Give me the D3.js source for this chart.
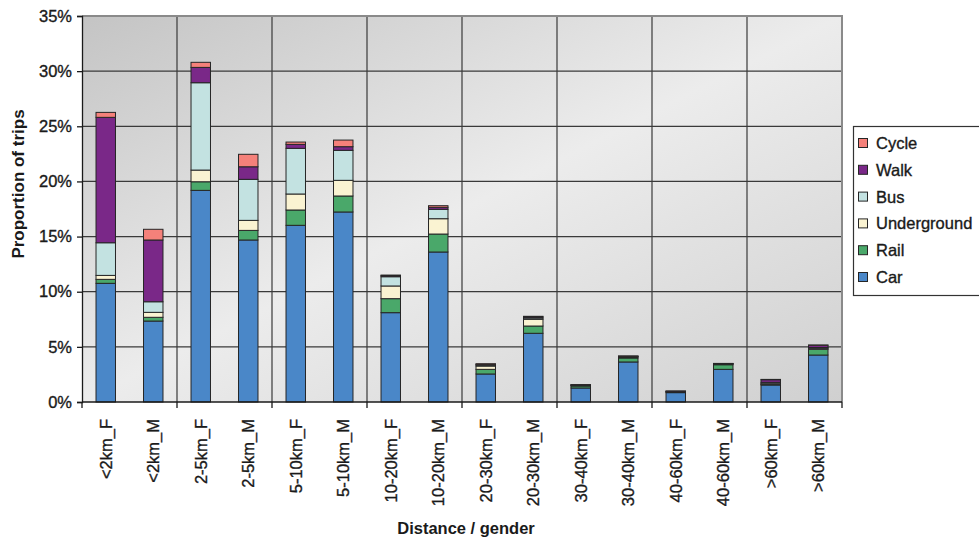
<!DOCTYPE html>
<html>
<head>
<meta charset="utf-8">
<script src="https://cdn.jsdelivr.net/npm/d3@7"></script>
<style>
  html, body { margin: 0; padding: 0; background: #fff; }
  svg { display: block; font-family: "Liberation Sans", Arial, sans-serif; }
  .lbl { stroke: #1a1a1a; stroke-width: 0.35px; fill: #1a1a1a; }
</style>
</head>
<body>
<svg id="chart" width="979" height="543"></svg>
<script>
// Trip categories: distance band and gender
const categories = ["<2km_F", "<2km_M", "2-5km_F", "2-5km_M", "5-10km_F", "5-10km_M",
  "10-20km_F", "10-20km_M", "20-30km_F", "20-30km_M", "30-40km_F", "30-40km_M",
  "40-60km_F", "40-60km_M", ">60km_F", ">60km_M"];

// Share of trips (%) by mode, stacked bottom to top
const car         = [10.76, 7.34, 19.19, 14.69, 16.02, 17.23, 8.10, 13.60, 2.54, 6.23, 1.27, 3.63, 0.85, 2.96, 1.54, 4.26];
const rail        = [0.36, 0.34, 0.78, 0.87, 1.39, 1.45, 1.27, 1.63, 0.42, 0.66, 0.18, 0.36, 0.06, 0.42, 0.06, 0.52];
const underground = [0.36, 0.45, 1.06, 0.91, 1.45, 1.42, 1.15, 1.39, 0.30, 0.61, 0.06, 0.09, 0.04, 0.06, 0.06, 0.10];
const bus         = [2.96, 0.96, 7.92, 3.72, 4.14, 2.72, 0.84, 0.85, 0.10, 0.12, 0.03, 0.05, 0.03, 0.03, 0.12, 0.06];
const walk        = [11.37, 5.60, 1.39, 1.14, 0.36, 0.33, 0.10, 0.18, 0.06, 0.10, 0.02, 0.03, 0.02, 0.02, 0.24, 0.20];
const cycle       = [0.45, 0.97, 0.46, 1.13, 0.21, 0.60, 0.05, 0.15, 0.05, 0.05, 0.01, 0.01, 0.00, 0.01, 0.03, 0.03];

const seriesNames = ["Car", "Rail", "Underground", "Bus", "Walk", "Cycle"];
const seriesValues = [car, rail, underground, bus, walk, cycle];
const colors = ["#4a87c8", "#4aa86a", "#faf3d2", "#c3e2e1", "#7a2888", "#f5817a"];

const yTicks = [0, 0.05, 0.10, 0.15, 0.20, 0.25, 0.30, 0.35];

const svg = d3.select("#chart");
const plot = { left: 82, right: 842, top: 16, bottom: 402 };
const fontSize = 16.5;

// Build a table: one row per category with a fraction per mode
const rows = categories.map((c, i) => {
  const r = { cat: c };
  seriesNames.forEach((s, k) => { r[s] = seriesValues[k][i] / 100; });
  return r;
});
const stacked = d3.stack().keys(seriesNames)(rows);

const x = d3.scaleBand().domain(categories)
  .range([plot.left, plot.right])
  .paddingInner(0.59).paddingOuter(0.295);
const y = d3.scaleLinear().domain([0, 0.35]).range([plot.bottom, plot.top]);

// Plot-area background gradient
const defs = svg.append("defs");
const grad = defs.append("linearGradient").attr("id", "bg")
  .attr("x1", 0).attr("y1", 0).attr("x2", 1).attr("y2", 1);
grad.append("stop").attr("offset", 0).attr("stop-color", "#c4c4c4");
grad.append("stop").attr("offset", 0.5).attr("stop-color", "#ececec");
grad.append("stop").attr("offset", 1).attr("stop-color", "#d0d0d0");

svg.append("rect")
  .attr("x", plot.left).attr("y", plot.top)
  .attr("width", plot.right - plot.left).attr("height", plot.bottom - plot.top)
  .attr("fill", "url(#bg)");

// Category boundaries every two bars
const step = x.step();
const boundaries = d3.range(0, categories.length + 1, 2)
  .map(i => plot.left + (x.paddingOuter() - x.paddingInner() / 2) * step + i * step);

// Horizontal gridlines
svg.append("g").selectAll("line").data(yTicks.slice(1)).join("line")
  .attr("x1", plot.left).attr("x2", plot.right)
  .attr("y1", d => y(d)).attr("y2", d => y(d))
  .attr("stroke", "#3a3a3a").attr("stroke-width", 1.2);

// Vertical gridlines
svg.append("g").selectAll("line").data(boundaries.slice(1, -1)).join("line")
  .attr("x1", d => d).attr("x2", d => d)
  .attr("y1", plot.top).attr("y2", plot.bottom)
  .attr("stroke", "#3a3a3a").attr("stroke-width", 1.2);

// Plot border (top and right)
svg.append("path")
  .attr("d", `M${plot.left},${plot.top}H${plot.right}V${plot.bottom}`)
  .attr("fill", "none").attr("stroke", "#8a8a8a").attr("stroke-width", 2);

// Stacked bars
svg.append("g").selectAll("g").data(stacked).join("g")
  .attr("fill", (d, i) => colors[i])
  .selectAll("rect").data(d => d).join("rect")
  .attr("x", d => x(d.data.cat))
  .attr("width", x.bandwidth())
  .attr("y", d => y(d[1]))
  .attr("height", d => Math.max(0, y(d[0]) - y(d[1])))
  .attr("stroke", "#262626").attr("stroke-width", 1);

// Y axis
const yAxis = d3.axisLeft(y).tickValues(yTicks).tickFormat(d3.format(".0%"))
  .tickSize(5).tickPadding(5);
const gy = svg.append("g").attr("transform", `translate(${plot.left},0)`).call(yAxis);
gy.select(".domain").attr("stroke", "#1a1a1a").attr("stroke-width", 1.3);
gy.selectAll(".tick line").attr("stroke", "#1a1a1a").attr("stroke-width", 1.3);
gy.selectAll("text").attr("class", "lbl").attr("font-size", fontSize)
  .attr("font-family", "Liberation Sans, Arial, sans-serif");

// X axis line and ticks
svg.append("line")
  .attr("x1", plot.left).attr("x2", plot.right)
  .attr("y1", plot.bottom).attr("y2", plot.bottom)
  .attr("stroke", "#1a1a1a").attr("stroke-width", 1.3);
svg.append("g").selectAll("line").data(boundaries).join("line")
  .attr("x1", d => d).attr("x2", d => d)
  .attr("y1", plot.bottom).attr("y2", plot.bottom + 6)
  .attr("stroke", "#1a1a1a").attr("stroke-width", 1.3);

// Rotated category labels
svg.append("g").selectAll("text").data(categories).join("text")
  .attr("class", "lbl")
  .attr("transform", d => `translate(${x(d) + x.bandwidth() / 2 + 6},419) rotate(-90)`)
  .attr("text-anchor", "end")
  .attr("font-size", fontSize)
  .text(d => d);

// Axis titles
svg.append("text")
  .attr("transform", "translate(24,184) rotate(-90)")
  .attr("text-anchor", "middle").attr("font-size", 17).attr("font-weight", "bold")
  .attr("fill", "#1a1a1a")
  .text("Proportion of trips");

svg.append("text")
  .attr("x", 466).attr("y", 534)
  .attr("text-anchor", "middle").attr("font-size", 16.5).attr("font-weight", "bold")
  .attr("fill", "#1a1a1a")
  .text("Distance / gender");

// Legend (top entry = top of stack)
const legend = svg.append("g");
legend.append("rect")
  .attr("x", 853.5).attr("y", 126.5).attr("width", 130).attr("height", 169)
  .attr("fill", "#fff").attr("stroke", "#333").attr("stroke-width", 1.2);
const legendOrder = d3.range(seriesNames.length).reverse();
const items = legend.selectAll("g.item").data(legendOrder).join("g")
  .attr("class", "item")
  .attr("transform", (d, i) => `translate(858,${143 + i * 26.8})`);
items.append("rect")
  .attr("x", 0.5).attr("y", -4.5).attr("width", 9).attr("height", 9)
  .attr("fill", d => colors[d]).attr("stroke", "#262626").attr("stroke-width", 1);
items.append("text")
  .attr("class", "lbl")
  .attr("x", 18).attr("y", 6)
  .attr("font-size", fontSize)
  .text(d => seriesNames[d]);
</script>
</body>
</html>
